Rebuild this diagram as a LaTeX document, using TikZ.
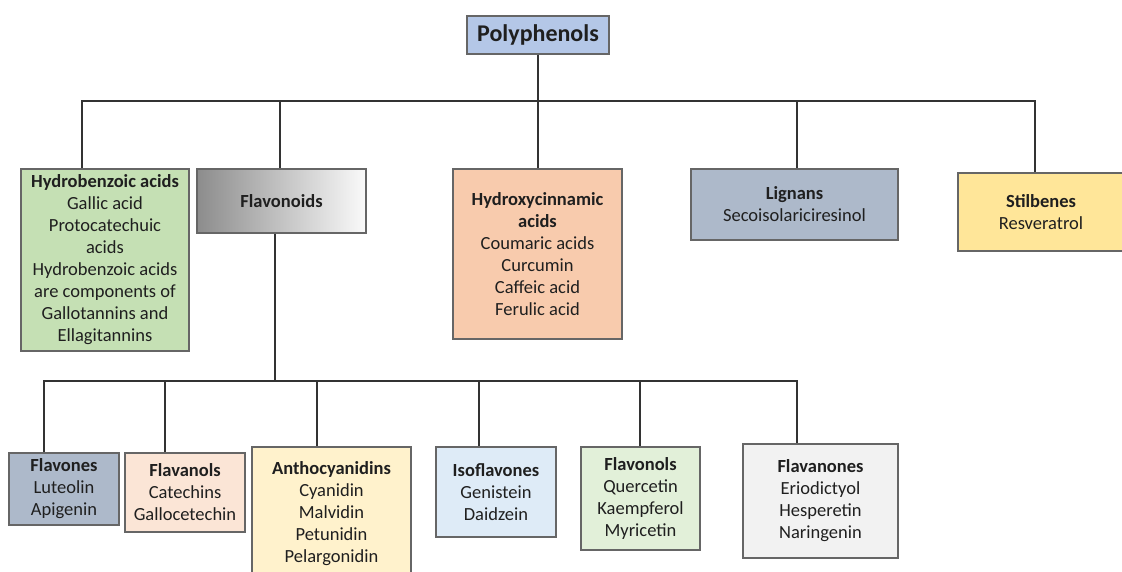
\documentclass[tikz,border=0pt]{standalone}
\usepackage{fontspec}
\setmainfont{Carlito}

\definecolor{polyblue}{HTML}{B4C7E7}
\definecolor{hbgreen}{HTML}{C5E0B4}
\definecolor{hcorange}{HTML}{F8CBAD}
\definecolor{slateblue}{HTML}{ADB9CA}
\definecolor{stilyellow}{HTML}{FFE699}
\definecolor{palepeach}{HTML}{FBE5D6}
\definecolor{paleyellow}{HTML}{FFF2CC}
\definecolor{paleblue}{HTML}{DEEBF7}
\definecolor{palegreen}{HTML}{E2F0D9}
\definecolor{palegray}{HTML}{F2F2F2}

\begin{document}
\begin{tikzpicture}[
    x=1pt, y=-1pt,
    box/.style={draw=black!60, line width=1.1pt, rectangle, align=center, inner sep=2pt, text=black!88, font=\fontsize{18.5}{22}\selectfont},
    top/.style={box, font=\fontsize{24}{28}\selectfont\bfseries},
    link/.style={draw=black!80, line width=1.6pt}
]
\useasboundingbox (0,0) rectangle (1122,572);

% Root
\node[top, fill=polyblue, minimum width=142pt, minimum height=38pt] (poly) at (538,35) {Polyphenols};

% First level
\node[box, fill=hbgreen, minimum width=168pt, minimum height=182pt] (hydrobenz) at (105,260)
    {\textbf{Hydrobenzoic acids}\\Gallic acid\\Protocatechuic\\acids\\Hydrobenzoic acids\\are components of\\Gallotannins and\\Ellagitannins};
\node[box, left color=black!45, right color=black!2, minimum width=169pt, minimum height=64pt] (flavonoids) at (281.5,201) {\textbf{Flavonoids}};
\node[box, fill=hcorange, minimum width=169pt, minimum height=170pt] (hydroxycin) at (537.5,254)
    {\textbf{Hydroxycinnamic}\\\textbf{acids}\\Coumaric acids\\Curcumin\\Caffeic acid\\Ferulic acid};
\node[box, fill=slateblue, minimum width=207pt, minimum height=71pt] (lignans) at (794.5,204.5)
    {\textbf{Lignans}\\Secoisolariciresinol};
\node[box, fill=stilyellow, minimum width=166pt, minimum height=78pt] (stilbenes) at (1041,212)
    {\textbf{Stilbenes}\\Resveratrol};

% Flavonoid subclasses
\node[box, fill=slateblue, minimum width=110pt, minimum height=72pt] (flavones) at (64,489)
    {\textbf{Flavones}\\Luteolin\\Apigenin};
\node[box, fill=palepeach, minimum width=120pt, minimum height=79pt] (flavanols) at (185,492.5)
    {\textbf{Flavanols}\\Catechins\\Gallocetechin};
\node[box, fill=paleyellow, minimum width=159pt, minimum height=133pt] (anthocy) at (331.5,513.5)
    {\textbf{Anthocyanidins}\\Cyanidin\\Malvidin\\Petunidin\\Pelargonidin};
\node[box, fill=paleblue, minimum width=120pt, minimum height=90pt] (isoflav) at (496,492)
    {\textbf{Isoflavones}\\Genistein\\Daidzein};
\node[box, fill=palegreen, minimum width=119pt, minimum height=103pt] (flavonols) at (640.5,498.5)
    {\textbf{Flavonols}\\Quercetin\\Kaempferol\\Myricetin};
\node[box, fill=palegray, minimum width=155pt, minimum height=114pt] (flavanones) at (820.5,501)
    {\textbf{Flavanones}\\Eriodictyol\\Hesperetin\\Naringenin};

% Bus lines
\coordinate (bus1) at (538,101);
\coordinate (bus2) at (275,381);

\draw[link] (poly) -- (bus1);
\draw[link] (bus1) -| ([xshift=-23pt]hydrobenz.north);
\draw[link] (bus1) -| ([xshift=-1.5pt]flavonoids.north);
\draw[link] (bus1) -| ([xshift=0.5pt]hydroxycin.north);
\draw[link] (bus1) -| ([xshift=2.5pt]lignans.north);
\draw[link] (bus1) -| ([xshift=-6pt]stilbenes.north);

\draw[link] ([xshift=-6.5pt]flavonoids.south) -- (bus2);
\draw[link] (bus2) -| ([xshift=-20pt]flavones.north);
\draw[link] (bus2) -| ([xshift=-20pt]flavanols.north);
\draw[link] (bus2) -| ([xshift=-14.5pt]anthocy.north);
\draw[link] (bus2) -| ([xshift=-17pt]isoflav.north);
\draw[link] (bus2) -| ([xshift=-0.5pt]flavonols.north);
\draw[link] (bus2) -| ([xshift=-23.5pt]flavanones.north);

\end{tikzpicture}
\end{document}
